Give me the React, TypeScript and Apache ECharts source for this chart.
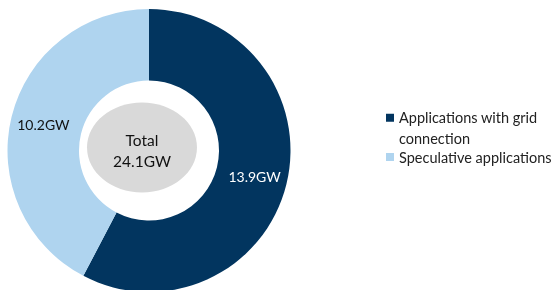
import React, { useEffect, useRef } from "react";
import * as echarts from "echarts";

const categories = ["Applications with grid connection", "Speculative applications"];
const values = [13.9, 10.2];
const colors = ["#02355F", "#AFD4EF"];
const unit = "GW";

export default function App() {
  const ref = useRef<HTMLDivElement>(null);
  useEffect(() => {
    if (!ref.current) return;
    const chart = echarts.init(ref.current, null, { renderer: "svg" });
    const total = values.reduce((a, b) => a + b, 0);
    const font = "Lato, 'Open Sans', sans-serif";
    chart.setOption({
      animation: false,
      color: colors,
      legend: [
        {
          data: [categories[0]],
          left: 386,
          top: 87,
          padding: 0,
          itemWidth: 8,
          itemHeight: 8,
          icon: "rect",
          selectedMode: false,
          formatter: () => " \nApplications with grid\nconnection",
          textStyle: { fontFamily: font, fontSize: 14.5, color: "#222", lineHeight: 20.5 },
        },
        {
          data: [categories[1]],
          left: 386,
          top: 147,
          padding: 0,
          itemWidth: 8,
          itemHeight: 8,
          icon: "rect",
          selectedMode: false,
          textStyle: { fontFamily: font, fontSize: 14.5, color: "#222", lineHeight: 20 },
        },
      ],
      graphic: [
        {
          type: "ellipse",
          shape: { cx: 142, cy: 147.5, rx: 55, ry: 45 },
          style: { fill: "#D9D9D9" },
          z: 10,
        },
        {
          type: "text",
          x: 142,
          y: 150,
          z: 11,
          style: {
            text: `Total\n${total.toFixed(1)}${unit}`,
            fontFamily: font,
            fontSize: 15.5,
            lineHeight: 21,
            fill: "#111",
            align: "center",
            verticalAlign: "middle",
          },
        },
      ],
      series: [
        {
          type: "pie",
          center: [149, 150.5],
          radius: [70, 141.5],
          startAngle: 90,
          clockwise: true,
          label: {
            show: true,
            position: "inside",
            fontFamily: font,
            fontSize: 14,
            formatter: (p: any) => `${p.value}${unit}`,
          },
          labelLine: { show: false },
          emphasis: { disabled: true },
          data: categories.map((c, i) => ({
            name: c,
            value: values[i],
            itemStyle: { color: colors[i] },
            label: { color: i === 0 ? "#FFFFFF" : "#111111" },
          })),
        },
      ],
    });
    return () => chart.dispose();
  }, []);
  return <div ref={ref} style={{ position: "fixed", left: 0, top: 0, width: 553, height: 290 }} />;
}
